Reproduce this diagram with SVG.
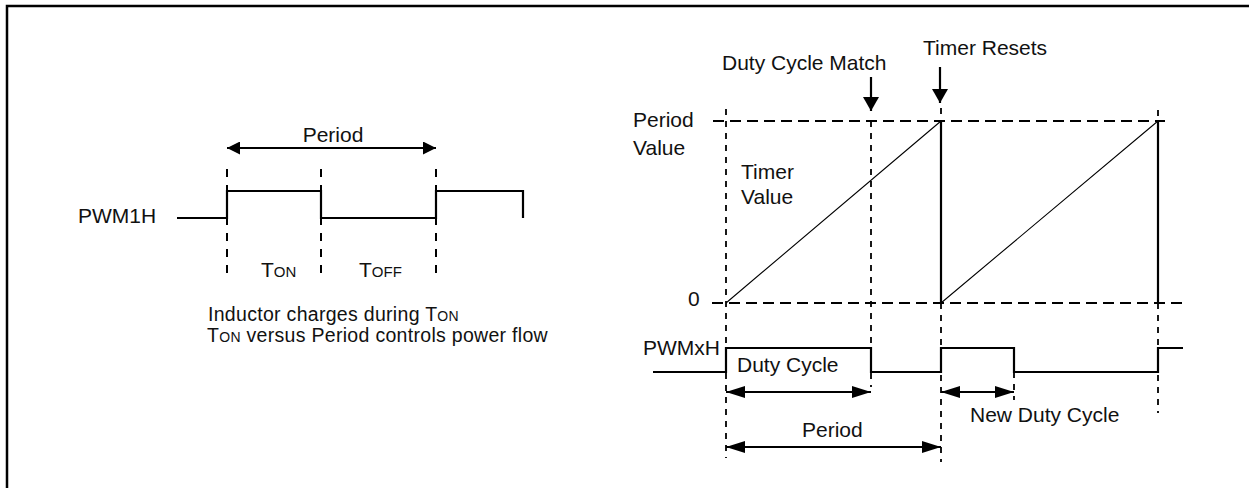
<svg xmlns="http://www.w3.org/2000/svg" width="1249" height="488" viewBox="0 0 1249 488">
  <style>
    text { font-family: "Liberation Sans", Arial, sans-serif; font-size: 21px; fill: #111; }
    .wave { fill: none; stroke: #000; stroke-width: 2.2; }
    .ramp { fill: none; stroke: #000; stroke-width: 1.1; }
    .dashL { fill: none; stroke: #000; stroke-width: 2; stroke-dasharray: 8 8; }
    .dashV { fill: none; stroke: #000; stroke-width: 1.8; stroke-dasharray: 6 6; }
    .dashH { fill: none; stroke: #000; stroke-width: 2; stroke-dasharray: 11 6; }
    .arr { fill: none; stroke: #000; stroke-width: 2.2; }
    .sm { font-size: 15px; }
    .note { font-size: 19.5px; letter-spacing: 0.3px; }
    .note .sm { font-size: 14px; }
  </style>
  <defs>
    <marker id="ahBig" markerUnits="userSpaceOnUse" markerWidth="20" markerHeight="12" refX="19" refY="6" orient="auto-start-reverse">
      <path d="M0,0 L19,6 L0,12 z" fill="#000"/>
    </marker>
    <marker id="ahMed" markerUnits="userSpaceOnUse" markerWidth="14" markerHeight="13" refX="13" refY="6.5" orient="auto-start-reverse">
      <path d="M0,0 L13,6.5 L0,13 z" fill="#000"/>
    </marker>
    <marker id="ahDown" markerUnits="userSpaceOnUse" markerWidth="15" markerHeight="16" refX="14" refY="8" orient="auto">
      <path d="M0,0 L14,8 L0,16 z" fill="#000"/>
    </marker>
  </defs>

  <rect id="frame" x="7" y="6" width="1260" height="500" fill="none" stroke="#000" stroke-width="2.5"/>

  <g id="left-waveform">
    <text x="78" y="223">PWM1H</text>
    <path class="wave" d="M177,218 H227 V191 H321 V218 H436 V191 H523 V218"/>
    <path class="dashL" d="M227,169 V277 M321,169 V277 M436,169 V277"/>
    <line class="arr" x1="227" y1="148" x2="436" y2="148" marker-start="url(#ahMed)" marker-end="url(#ahMed)"/>
    <text x="333" y="142" text-anchor="middle">Period</text>
    <text x="261" y="277" font-size="18">T<tspan class="sm">ON</tspan></text>
    <text x="359" y="277" font-size="18">T<tspan class="sm">OFF</tspan></text>
    <text class="note" x="208" y="321">Inductor charges during T<tspan class="sm">ON</tspan></text>
    <text class="note" x="207" y="342">T<tspan class="sm">ON</tspan> versus Period controls power flow</text>
  </g>

  <g id="timer-chart">
    <text x="633" y="127">Period</text>
    <text x="633" y="155">Value</text>
    <text x="741" y="179">Timer</text>
    <text x="741" y="204">Value</text>
    <text x="688" y="306">0</text>
    <path class="dashH" d="M713,121 H1165 M712,303 H1182"/>
    <path class="ramp" d="M726,303 L941,121 M941,303 L1158,121"/>
    <path class="wave" d="M941,121 V303 M1158,121 V303"/>
  </g>

  <g id="markers-top">
    <text x="722" y="70">Duty Cycle Match</text>
    <line class="arr" x1="871" y1="77" x2="871" y2="111" marker-end="url(#ahDown)"/>
    <text x="923" y="55">Timer Resets</text>
    <line class="arr" x1="940" y1="67" x2="940" y2="103" marker-end="url(#ahDown)"/>
  </g>

  <g id="guides">
    <path class="dashV" d="M726,109 V458 M871,121 V387 M941,108 V121 M941,303 V462 M1158,110 V121 M1158,303 V413 M1014,372 V400"/>
  </g>

  <g id="pwmx-waveform">
    <text x="643" y="355">PWMxH</text>
    <path class="wave" d="M653,372 H726 V348 H871 V372 H941 V348 H1014 V372 H1158 V348 H1183"/>
    <text x="737" y="372">Duty Cycle</text>
  </g>

  <g id="connectors">
    <line class="arr" x1="726" y1="392" x2="871" y2="392" marker-start="url(#ahBig)" marker-end="url(#ahBig)"/>
    <line class="arr" x1="726" y1="447" x2="941" y2="447" marker-start="url(#ahBig)" marker-end="url(#ahBig)"/>
    <line class="arr" x1="941" y1="392" x2="1014" y2="392" marker-start="url(#ahBig)" marker-end="url(#ahBig)"/>
    <text x="802" y="437">Period</text>
    <text x="970" y="422">New Duty Cycle</text>
  </g>
</svg>
